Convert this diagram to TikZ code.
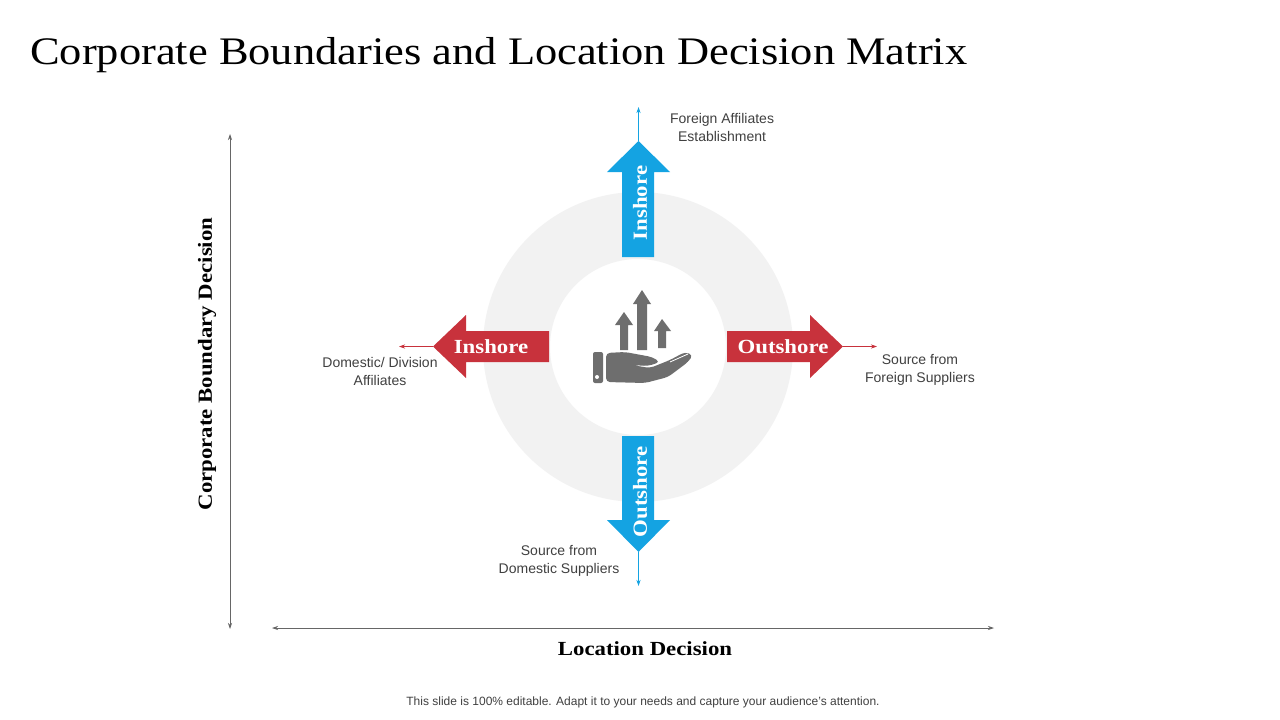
\documentclass[tikz,border=0pt]{standalone}
\usepackage{fontspec}
\setmainfont{Liberation Serif}
\setsansfont{Liberation Sans}
\newfontfamily\camb[FakeStretch=1.14]{Liberation Serif}
\usetikzlibrary{arrows.meta}
\definecolor{myblue}{HTML}{14A3E2}
\definecolor{myred}{HTML}{C8323C}
\definecolor{ringgray}{HTML}{F2F2F2}
\definecolor{icongray}{HTML}{6E6E6E}
\definecolor{txtgray}{HTML}{404040}
\tikzset{
  lbl/.style={font=\sffamily\fontsize{14}{18}\selectfont, text=txtgray, align=center, inner sep=0pt},
  arrtxt/.style={font=\camb\bfseries\fontsize{20}{22}\selectfont, text=white, inner sep=0pt},
  axis/.style={draw=gray!80!black, line width=0.7pt, {Stealth[length=6pt,width=4pt]}-{Stealth[length=6pt,width=4pt]}},
  thin/.style={line width=0.8pt, -{Stealth[length=6pt,width=4pt]}},
}
\begin{document}
\begin{tikzpicture}[x=1pt,y=-1pt]
\useasboundingbox (0,0) rectangle (1280,720);
\fill[white] (0,0) rectangle (1280,720);
% title
\node[anchor=base west, inner sep=0pt, font=\camb\fontsize{39}{44}\selectfont] (title) at (30,64) {Corporate Boundaries and Location Decision Matrix};
% ring
\fill[ringgray, even odd rule] (638,347) circle (155) (638,347) circle (88);
% up arrow
\fill[myblue] (622,257) -- (622,172) -- (607,172) -- (638.5,141) -- (670,172) -- (654,172) -- (654,257) -- cycle;
\coordinate (upt) at (638.5,141); \coordinate (upe) at (638.5,107);
\draw[thin, myblue] (upt) -- (upe);
\node[arrtxt, rotate=90] (inup) at (640,203) {Inshore};
% down arrow
\fill[myblue] (622,436) -- (622,520) -- (607,520) -- (638.5,552) -- (670,520) -- (654,520) -- (654,436) -- cycle;
\coordinate (dnt) at (638.5,552); \coordinate (dne) at (638.5,586);
\draw[thin, myblue] (dnt) -- (dne);
\node[arrtxt, rotate=90] (outdn) at (640,492) {Outshore};
% left arrow
\fill[myred] (549,331) -- (466,331) -- (466,315) -- (433,346.5) -- (466,378) -- (466,362) -- (549,362) -- cycle;
\coordinate (lt) at (433,346.5); \coordinate (le) at (399,346.5);
\draw[thin, myred] (lt) -- (le);
\node[arrtxt] (inl) at (491,347) {Inshore};
% right arrow
\fill[myred] (727,331) -- (810,331) -- (810,315) -- (843,346.5) -- (810,378) -- (810,362) -- (727,362) -- cycle;
\coordinate (rt) at (843,346.5); \coordinate (re) at (877,346.5);
\draw[thin, myred] (rt) -- (re);
\node[arrtxt] (outr) at (783,347) {Outshore};
% icon
\begin{scope}[icongray]
\fill (637,350) -- (637,304) -- (633,304) -- (642,290) -- (651,304) -- (647,304) -- (647,350) -- cycle;
\fill (620,350) -- (620,325) -- (615,325) -- (624,312) -- (633,325) -- (628,325) -- (628,350) -- cycle;
\fill (658,348) -- (658,331) -- (654,331) -- (662,319) -- (671,331) -- (666,331) -- (666,348) -- cycle;
\fill[rounded corners=2pt] (593,352) -- (603,352) -- (603,383) -- (593,383) -- cycle;
\fill[rounded corners=4pt] (606,353) -- (625,352) -- (652,357) -- (660,362) -- (648,366) -- (632,365) -- (650,368) -- (670,360) -- (685,352) -- (693,355) -- (688,362) -- (668,377) -- (645,383) -- (606,382) -- cycle;
\end{scope}
\fill[white] (597,377) circle (2);
\draw[white, line width=0.8pt] (668,357) -- (684,350) (670,362) -- (688,354);
% labels
\node[lbl] (fa) at (722,127) {Foreign Affiliates\\Establishment};
\node[lbl] (dd) at (380,371) {Domestic/ Division\\Affiliates};
\node[lbl] (sf) at (920,370) {Source from\\Foreign Suppliers};
\node[lbl] (sd) at (559,561) {Source from\\Domestic Suppliers};
% axes
\coordinate (vt) at (230,134); \coordinate (vb) at (230,629);
\draw[axis] (vt) -- (vb);
\coordinate (hl) at (272,628); \coordinate (hr) at (994,628);
\draw[axis] (hl) -- (hr);
\node[font=\camb\bfseries\fontsize{20}{22}\selectfont, rotate=90, inner sep=0pt] (cbd) at (207,364) {Corporate Boundary Decision};
\node[font=\camb\bfseries\fontsize{20}{22}\selectfont, inner sep=0pt] (ld) at (645,649) {Location Decision};
\node[font=\sffamily\fontsize{12}{14}\selectfont, text=txtgray, inner sep=0pt] (foot) at (643,702) {This slide is 100\% editable. Adapt it to your needs and capture your audience's attention.};
\end{tikzpicture}
\end{document}
